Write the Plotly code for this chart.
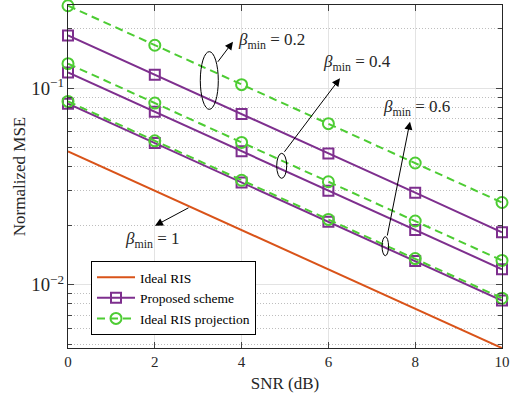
import plotly.graph_objects as go

snr_db = [0, 2, 4, 6, 8, 10]

ideal_ris = [0.0477, 0.0301, 0.0190, 0.0120, 0.00757, 0.00477]

proposed_b02 = [0.185, 0.117, 0.0737, 0.0465, 0.0294, 0.0185]
proposed_b04 = [0.120, 0.0757, 0.0478, 0.0301, 0.0190, 0.0120]
proposed_b06 = [0.0832, 0.0525, 0.0331, 0.0209, 0.0132, 0.00832]

projection_b02 = [0.262, 0.165, 0.104, 0.0659, 0.0416, 0.0262]
projection_b04 = [0.133, 0.0839, 0.0529, 0.0334, 0.0211, 0.0133]
projection_b06 = [0.0855, 0.0539, 0.0340, 0.0215, 0.0136, 0.00855]

series_names = ["Ideal RIS", "Proposed scheme", "Ideal RIS projection"]
beta_labels = ["0.2", "0.4", "0.6", "1"]

ORANGE = "#D95319"
PURPLE = "#7E2F8E"
GREEN = "#4DCC33"
FONT = "Liberation Serif, Times New Roman, serif"
TXT = "#262626"

W, H = 514, 401
ML, MR, MT, MB = 68, 12, 5, 53
PW = W - ML - MR
PH = H - MT - MB


def px2paper(px, py):
    return (px - ML) / PW, (MT + PH - py) / PH


fig = go.Figure()

fig.add_trace(go.Scatter(x=snr_db, y=ideal_ris, mode="lines", name=series_names[0],
                         line=dict(color=ORANGE, width=2)))

for i, ys in enumerate([proposed_b02, proposed_b04, proposed_b06]):
    fig.add_trace(go.Scatter(x=snr_db, y=ys, mode="lines+markers", name=series_names[1],
                             showlegend=(i == 0), cliponaxis=False,
                             line=dict(color=PURPLE, width=2),
                             marker=dict(symbol="square-open", size=10, color=PURPLE,
                                         line=dict(width=2, color=PURPLE))))

for i, ys in enumerate([projection_b02, projection_b04, projection_b06]):
    fig.add_trace(go.Scatter(x=snr_db, y=ys, mode="lines+markers", name=series_names[2],
                             showlegend=(i == 0), cliponaxis=False,
                             line=dict(color=GREEN, width=2, dash="8px,5px"),
                             marker=dict(symbol="circle-open", size=11, color=GREEN,
                                         line=dict(width=2, color=GREEN))))

# ellipses (paper coords from pixel centres)
ellipses = [(209.3, 80.5, 18, 57.7), (281.7, 165.8, 10, 25), (385.3, 246.2, 6.5, 19)]
for cx, cy, w, h in ellipses:
    x0, y0 = px2paper(cx - w / 2, cy + h / 2)
    x1, y1 = px2paper(cx + w / 2, cy - h / 2)
    fig.add_shape(type="circle", xref="paper", yref="paper", x0=x0, y0=y0, x1=x1, y1=y1,
                  line=dict(color="black", width=1))

# arrows: (tail_px, tail_py, head_px, head_py)
arrows = [(216.7, 63.3, 233, 41.7), (283.3, 153.3, 340, 78.3),
          (387, 237, 410, 121.7), (190, 207, 155, 225.7)]
for tx, ty, hx, hy in arrows:
    x, y = px2paper(hx, hy)
    fig.add_annotation(xref="paper", yref="paper", x=x, y=y, text="",
                       showarrow=True, ax=tx - hx, ay=ty - hy,
                       arrowhead=2, arrowsize=1.6, arrowwidth=1, arrowcolor="black")

# labels: (left px, centre py)
label_pos = [(236, 41), (321, 63), (381, 108), (123, 240)]
for (lx, ly), b in zip(label_pos, beta_labels):
    x, y = px2paper(lx, ly)
    fig.add_annotation(xref="paper", yref="paper", x=x, y=y, xanchor="left", yanchor="middle",
                       text="<i>β</i><sub>min</sub> = " + b, showarrow=False,
                       font=dict(family=FONT, size=17, color=TXT))

fig.update_layout(
    width=W, height=H,
    margin=dict(l=ML, r=MR, t=MT, b=MB, autoexpand=False),
    paper_bgcolor="white", plot_bgcolor="white",
    font=dict(family=FONT, size=15, color=TXT),
    legend=dict(x=px2paper(91, 0)[0], y=px2paper(0, 335)[1], xanchor="left", yanchor="bottom",
                bgcolor="white", bordercolor="black", borderwidth=1,
                font=dict(family=FONT, size=13.5, color="black"),
                itemwidth=38, tracegroupgap=0),
    showlegend=True,
)

fig.update_xaxes(
    range=[0, 10], tickvals=[0, 2, 4, 6, 8, 10], ticks="inside", ticklen=6,
    showline=True, linecolor="#262626", linewidth=1, mirror="ticks",
    showgrid=True, gridcolor="#E3E3E3", gridwidth=1, zeroline=False, automargin=False,
    title=dict(text="SNR (dB)", font=dict(family=FONT, size=17, color=TXT), standoff=8),
    tickfont=dict(family=FONT, size=15, color=TXT),
)
fig.update_yaxes(
    type="log", range=[-2.321, -0.578], dtick=1, exponentformat="power",
    ticks="inside", ticklen=6,
    showline=True, linecolor="#262626", linewidth=1, mirror="ticks",
    showgrid=True, gridcolor="#E3E3E3", gridwidth=1, zeroline=False, automargin=False,
    minor=dict(dtick="D1", ticks="inside", ticklen=4, showgrid=True,
               gridcolor="#BEBEBE", griddash="1px,2px", gridwidth=1),
    title=dict(text="Normalized MSE", font=dict(family=FONT, size=17, color=TXT), standoff=1),
    tickfont=dict(family=FONT, size=15, color=TXT),
)

fig.write_html("out.html", config={"displayModeBar": False},
               post_script="document.body.style.margin='0px';document.body.style.overflow='hidden';")
